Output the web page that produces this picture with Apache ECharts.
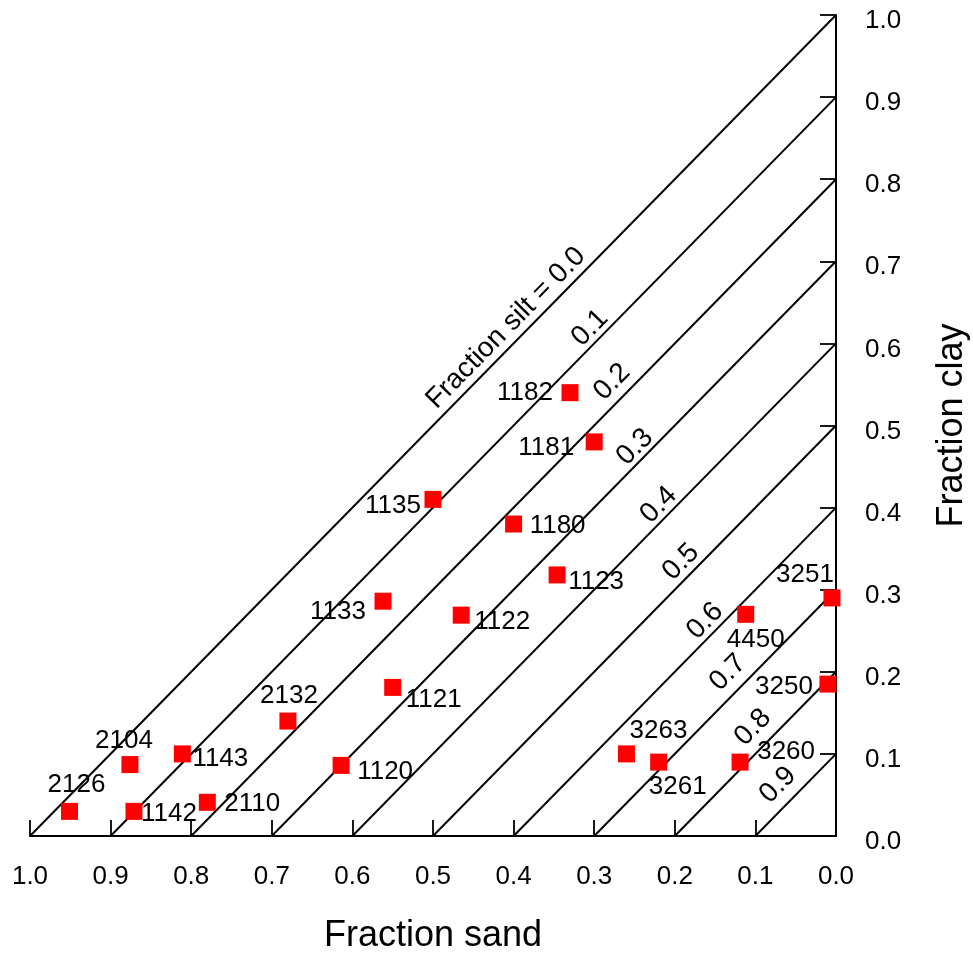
<!DOCTYPE html>
<html><head><meta charset="utf-8">
<script src="https://cdn.jsdelivr.net/npm/echarts@6/dist/echarts.min.js"></script>
<style>html,body{margin:0;padding:0;background:#fff}#c{width:973px;height:955px}</style>
</head><body><div id="c"></div>
<script>
// ---- data ----
const sampleIds = ['2126','2104','1143','1142','2110','1120','2132','1121','1133','1122','1135','1180','1123','1182','1181','4450','3251','3250','3263','3261','3260'];
const sandFraction = [0.951,0.876,0.811,0.871,0.780,0.614,0.680,0.550,0.562,0.465,0.500,0.400,0.346,0.330,0.300,0.112,0.005,0.010,0.260,0.220,0.119];
const clayFraction = [0.030,0.087,0.100,0.030,0.041,0.086,0.140,0.181,0.286,0.269,0.410,0.380,0.318,0.540,0.480,0.270,0.290,0.185,0.100,0.090,0.090];
const siltLevels = [0.0,0.1,0.2,0.3,0.4,0.5,0.6,0.7,0.8,0.9];
const siltLabels = ['Fraction silt = 0.0','0.1','0.2','0.3','0.4','0.5','0.6','0.7','0.8','0.9'];
const axisTickLabels = ['0.0','0.1','0.2','0.3','0.4','0.5','0.6','0.7','0.8','0.9','1.0'];

// ---- layout (label placement) ----
const labelOffsets = {
 '2126':[7,-27],'2104':[-6,-24],'1143':[38,5],'1142':[35,2],'2110':[45,1],'1120':[44,6],
 '2132':[1,-25],'1121':[41,12],'1133':[-45,11],'1122':[41,7],'1135':[-40,6],'1180':[44,2],
 '1123':[39,7],'1182':[-45,0],'1181':[-48,6],'4450':[10,25],'3251':[-27,-23],'3250':[-44,3],
 '3263':[32,-23],'3261':[19,25],'3260':[46,-10]
};
const siltLabelAnchor = [[0.4094,0.6188],[0.3052,0.6188],[0.2779,0.5530],[0.2494,0.4738],[0.2200,0.4032],
 [0.1923,0.3337],[0.1625,0.2619],[0.1340,0.1991],[0.1030,0.1322],[0.0720,0.0621]];

const F = '"Liberation Sans", Arial, Helvetica, sans-serif';
const chart = echarts.init(document.getElementById('c'), null, {renderer:'canvas'});

const series = [];
siltLevels.forEach((s) => {
  series.push({
    type:'line', silent:true, symbol:'none', z:1, clip:false,
    lineStyle:{color:'#000', width:2},
    data:[[1 - s, 0], [0, 1 - s]]
  });
});
series.push({
  type:'scatter', silent:true, symbolSize:0, z:3,
  itemStyle:{opacity:1},
  data: siltLabels.map((t, i) => ({value: siltLabelAnchor[i], name: t})),
  label:{show:true, position:'inside', formatter:'{b}', rotate:45.5, color:'#000', opacity:1,
         fontSize:28, fontFamily:F, align:'center', verticalAlign:'middle'}
});
series.push({
  type:'scatter', symbol:'rect', symbolSize:17, z:5, clip:false,
  itemStyle:{color:'#ff0000', opacity:1},
  data: sampleIds.map((id, i) => ({
    value:[sandFraction[i], clayFraction[i]], name:id,
    label:{offset: labelOffsets[id]}
  })),
  label:{show:true, position:'inside', formatter:'{b}', color:'#000', opacity:1,
         fontSize:26, fontFamily:F, align:'center', verticalAlign:'middle'}
});

const axisCommon = {
  type:'value', min:0, max:1, interval:0.1,
  axisLine:{show:true, onZero:false, lineStyle:{color:'#000', width:2}},
  axisTick:{show:true, inside:true, length:16, lineStyle:{color:'#000', width:1.8}},
  splitLine:{show:false},
  nameLocation:'middle',
  nameTextStyle:{fontSize:36, color:'#000', fontFamily:F}
};

chart.setOption({
  backgroundColor:'#fff',
  animation:false,
  grid:{left:30, right:137, top:15, bottom:119, containLabel:false, outerBoundsMode:'none'},
  xAxis: Object.assign({}, axisCommon, {
    position:'bottom', inverse:true,
    axisLabel:{margin:28, fontSize:26, color:'#000', fontFamily:F, showMinLabel:true, showMaxLabel:true,
      formatter:(v) => axisTickLabels[Math.round(v * 10)]},
    name:'Fraction sand', nameGap:82
  }),
  yAxis: Object.assign({}, axisCommon, {
    position:'right',
    axisLabel:{margin:29, fontSize:26, color:'#000', fontFamily:F, showMinLabel:true, showMaxLabel:true,
      formatter:(v) => '{t|' + axisTickLabels[Math.round(v * 10)] + '}',
      rich:{t:{fontSize:26, color:'#000', fontFamily:F, padding:[12,0,0,0]}}},
    name:'Fraction clay', nameGap:98, nameRotate:90
  }),
  series: series
});
</script></body></html>
